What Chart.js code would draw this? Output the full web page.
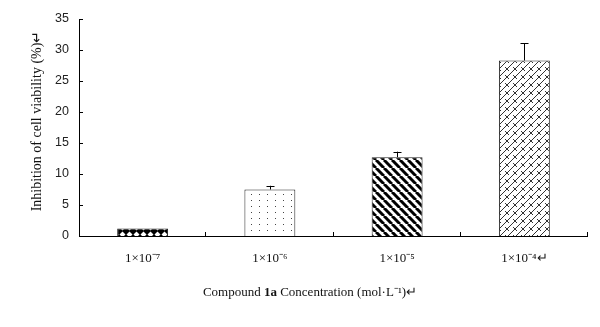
<!DOCTYPE html>
<html><head><meta charset="utf-8">
<script src="https://cdn.jsdelivr.net/npm/chart.js@4/dist/chart.umd.min.js"></script>
<style>html,body{margin:0;padding:0;background:#fff}#wrap{width:600px;height:327px;position:relative}</style>
</head><body><div id="wrap"><canvas id="c" width="600" height="327"></canvas></div>
<script>
const categories = ['1×10⁻⁷', '1×10⁻⁶', '1×10⁻⁵', '1×10⁻⁴↵'];
const values = [1.2, 7.5, 12.7, 28.3];
const errors = [0, 0.6, 0.9, 2.8];
const yTitle = 'Inhibition of cell viability (%)↵';
const xTitleParts = [['Compound ', false], ['1a', true], [' Concentration (mol·L⁻¹)↵', false]];

function mk(w, h, draw) {
  const c = document.createElement('canvas'); c.width = w; c.height = h;
  const g = c.getContext('2d'); g.fillStyle = '#fff'; g.fillRect(0, 0, w, h);
  draw(g); return c;
}
const ctx0 = document.getElementById('c').getContext('2d');
const p1 = ctx0.createPattern(mk(7, 7, g => {
  g.fillStyle = '#000'; g.fillRect(0, 0, 7, 7);
  g.fillStyle = '#fff'; g.beginPath(); g.moveTo(3.5, 0.5); g.lineTo(6.5, 3.5); g.lineTo(3.5, 6.5); g.lineTo(0.5, 3.5); g.closePath(); g.fill();
}), 'repeat');
const p2 = ctx0.createPattern(mk(8, 6, g => {
  g.fillStyle = '#444'; g.fillRect(3, 2, 1, 1);
}), 'repeat');
const p3 = ctx0.createPattern(mk(8, 8, g => {
  g.strokeStyle = '#000'; g.lineWidth = 3;
  for (let k = -8; k <= 16; k += 8) { g.beginPath(); g.moveTo(k, 0); g.lineTo(k + 8, 8); g.stroke(); }
}), 'repeat');
const p4 = ctx0.createPattern(mk(8, 8, g => {
  g.strokeStyle = '#333'; g.lineWidth = 1;
  for (let k = -8; k <= 16; k += 8) { g.beginPath(); g.moveTo(k, 8); g.lineTo(k + 8, 0); g.stroke(); }
  g.beginPath(); g.moveTo(1, 3); g.lineTo(5, 7); g.stroke();
}), 'repeat');

const deco = {
  id: 'deco',
  afterDatasetsDraw(chart) {
    const c = chart.ctx, x = chart.scales.x, y = chart.scales.y, a = chart.chartArea;
    c.save();
    c.strokeStyle = '#000'; c.lineWidth = 1;
    c.beginPath(); c.moveTo(a.left + 0.5, a.top); c.lineTo(a.left + 0.5, a.bottom + 0.5); c.lineTo(a.right, a.bottom + 0.5); c.stroke();
    y.ticks.forEach(t => { const py = Math.round(y.getPixelForValue(t.value)) + 0.5; c.beginPath(); c.moveTo(a.left, py); c.lineTo(a.left + 4, py); c.stroke(); });
    for (let i = 1; i <= categories.length; i++) {
      const px = Math.round(a.left + (a.right - a.left) * i / categories.length) - 0.5;
      c.beginPath(); c.moveTo(px, a.bottom); c.lineTo(px, a.bottom - 4); c.stroke();
    }
    const meta = chart.getDatasetMeta(0);
    meta.data.forEach((bar, i) => {
      if (!errors[i]) return;
      const px = Math.round(bar.x) + 0.5, top = y.getPixelForValue(values[i] + errors[i]);
      c.beginPath(); c.moveTo(px, bar.y); c.lineTo(px, top); c.moveTo(px - 4, Math.round(top) + 0.5); c.lineTo(px + 4, Math.round(top) + 0.5); c.stroke();
    });
    // x title with bold part
    c.fillStyle = '#111'; c.textBaseline = 'middle';
    let w = 0;
    xTitleParts.forEach(([s, b]) => { c.font = (b ? 'bold ' : '') + '13px "Liberation Serif", serif'; w += c.measureText(s).width; });
    let sx = 304 - w / 2 + 6;
    xTitleParts.forEach(([s, b]) => { c.font = (b ? 'bold ' : '') + '13px "Liberation Serif", serif'; c.fillText(s, sx, 293); sx += c.measureText(s).width; });
    // y title
    c.translate(37, 121); c.rotate(-Math.PI / 2);
    c.font = '14px "Liberation Serif", serif'; c.textAlign = 'center';
    c.fillText(yTitle, 0, 0);
    c.restore();
  }
};

new Chart(document.getElementById('c'), {
  type: 'bar',
  data: {
    labels: categories,
    datasets: [{
      data: values,
      backgroundColor: [p1, p2, p3, p4],
      borderColor: '#222', borderWidth: 1,
      categoryPercentage: 1, barPercentage: 0.4
    }]
  },
  options: {
    responsive: false, animation: false,
    layout: { padding: { left: 0, right: 12, top: 19, bottom: 0 } },
    plugins: { legend: { display: false }, tooltip: { enabled: false } },
    scales: {
      x: {
        grid: { display: false, drawTicks: false }, border: { display: false },
        ticks: { color: '#111', padding: 15, font: { family: '"Liberation Serif", serif', size: 13 } },
        afterFit(s) { s.height = 91; }
      },
      y: {
        min: 0, max: 35,
        grid: { display: false, drawTicks: false }, border: { display: false },
        ticks: { stepSize: 5, color: '#222', padding: 10, font: { family: '"Liberation Sans", sans-serif', size: 12.5 } },
        afterFit(s) { s.width = 79; }
      }
    }
  },
  plugins: [deco]
});
</script></body></html>
